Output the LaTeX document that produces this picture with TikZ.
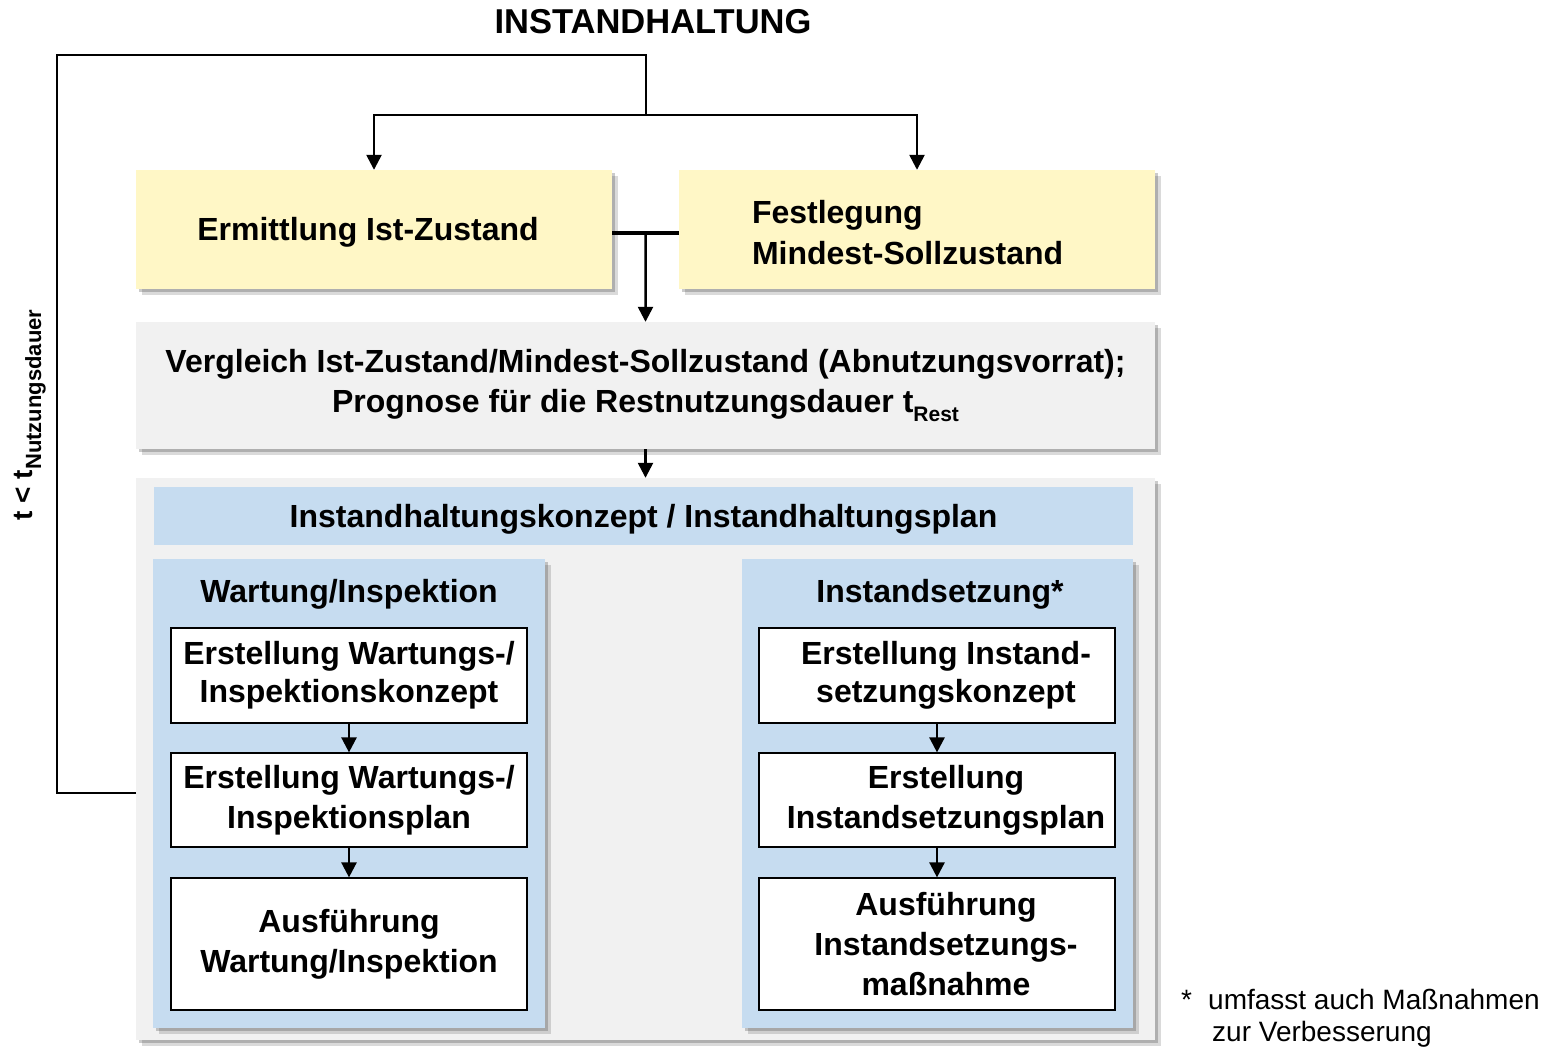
\documentclass[tikz,border=0pt]{standalone}
\usepackage{fontspec}
\setmainfont{Liberation Sans}
\usetikzlibrary{arrows.meta,shadows,calc}
\definecolor{yfill}{HTML}{FFF7C6}
\definecolor{gfill}{HTML}{F1F1F1}
\definecolor{bfill}{HTML}{C6DCF0}
\newcommand{\bigf}{\fontsize{32}{40}\selectfont\bfseries}
\newcommand{\subf}{\fontsize{21}{21}\selectfont\bfseries}
\newcommand{\sT}{\rule[-0.21em]{0pt}{1.14em}}
\newcommand{\sTT}{\rule[-0.21em]{0pt}{1.33em}}
\newcommand{\rS}{\hspace*{18pt}}
\tikzset{
  lne/.style={line width=2.5pt},
  conn/.style={line width=2.5pt,-{Triangle[width=15pt,length=15pt]}},
  shad/.style={drop shadow={shadow xshift=3pt,shadow yshift=-3pt,opacity=0.25,fill=black!80},
               drop shadow={shadow xshift=6pt,shadow yshift=-6pt,opacity=0.18,fill=black!80}},
  vc/.style={execute at begin node=\sT,execute at end node=\sT},
  ybox/.style={fill=yfill,draw=none,shad,minimum width=476pt,minimum height=119pt,inner sep=0pt,font=\bigf,align=center},
  gbox/.style={fill=gfill,draw=none,shad,inner sep=0pt,align=center,font=\bigf},
  bbox/.style={fill=bfill,draw=none,inner sep=0pt,align=center,font=\bigf},
  wbox/.style={fill=white,draw=black,line width=1.2pt,minimum width=356pt,inner sep=0pt,align=center,font=\bigf},
  lbl/.style={font=\bigf,inner sep=0pt,align=center}
}
\begin{document}
\begin{tikzpicture}[x=1pt,y=-1pt]
\useasboundingbox[fill=white] (0,0) rectangle (1554,1047);

\node[lbl,font=\fontsize{34.5}{34.5}\selectfont\bfseries] (title) at (653,22) {INSTANDHALTUNG};

% yellow boxes
\node[ybox,vc] (y1) at (374,229.5) {Ermittlung Ist-Zustand\hspace*{12pt}};
\node[ybox,execute at begin node=\sTT,execute at end node=\sT,text width=330pt,align=left,font=\fontsize{32}{41}\selectfont\bfseries] (y2) at (917,229.5) {Festlegung\\Mindest-Sollzustand};

% gray comparison box
\node[gbox,minimum width=1019pt,minimum height=127pt] (cmp) at (645.5,385.5)
  {Vergleich Ist-Zustand/Mindest-Sollzustand (Abnutzungsvorrat);\\Prognose für die Restnutzungsdauer t\raisebox{-0.3em}{\subf Rest}};

% outer container
\node[gbox,minimum width=1019pt,minimum height=562pt] (outer) at (645.5,759) {};
\node[bbox,vc,minimum width=979pt,minimum height=58pt] (head) at (643.5,516) {Instandhaltungskonzept / Instandhaltungsplan};

% panels
\node[bbox,shad,minimum width=392pt,minimum height=469pt] (lp) at (349,793.5) {};
\node[bbox,shad,minimum width=391pt,minimum height=469pt] (rp) at (937.5,793.5) {};
\node[lbl,vc] (lt) at (349,591) {Wartung/Inspektion};
\node[lbl,vc] (rt) at (940,591) {Instandsetzung*};

% white boxes left
\node[wbox,vc,minimum height=95pt,font=\fontsize{32}{38}\selectfont\bfseries] (l1) at (349,675.5) {Erstellung Wartungs-/\\Inspektionskonzept};
\node[wbox,minimum height=94pt] (l2) at (349,800) {Erstellung Wartungs-/\\Inspektionsplan};
\node[wbox,minimum height=132pt] (l3) at (349,944) {Ausführung\\Wartung/Inspektion};
% white boxes right
\node[wbox,vc,minimum height=95pt,font=\fontsize{32}{38}\selectfont\bfseries] (r1) at (937,675.5) {\rS Erstellung Instand-\\\rS setzungskonzept};
\node[wbox,minimum height=94pt] (r2) at (937,800) {\rS Erstellung\\\rS Instandsetzungsplan};
\node[wbox,minimum height=132pt] (r3) at (937,944) {\rS Ausführung\\\rS Instandsetzungs-\\\rS maßnahme};

\draw[conn] (l1) -- (l2);
\draw[conn] (l2) -- (l3);
\draw[conn] (r1) -- (r2);
\draw[conn] (r2) -- (r3);

% connectors
\coordinate (fbstart) at (136,793);
\coordinate (corner) at (57,55);
\coordinate (split) at (646,115);
\draw[lne] (fbstart) -| (corner) -| (split);
\draw[conn] (split) -| (y1.north);
\draw[conn] (split) -| (y2.north);
\draw[line width=4pt] ([yshift=-3pt]y1.east) -- ([yshift=-3pt]y2.west);
\coordinate (j) at ($([yshift=-3pt]y1.east)!0.5!([yshift=-3pt]y2.west)$);
\draw[conn] (j) -- (cmp.north);
\draw[conn] (cmp.south) -- (outer.north);

% rotated label
\node[lbl,rotate=90,font=\fontsize{28}{28}\selectfont\bfseries] (tl) at (30,415) {t < t\raisebox{-0.3em}{\fontsize{22}{22}\selectfont\bfseries Nutzungsdauer}};

% footnote
\node[anchor=north west,align=left,inner sep=0pt,font=\fontsize{28}{32}\selectfont] (fn) at (1181,988.5) {\makebox[27pt][l]{*}umfasst auch Maßnahmen\\\hspace*{31pt}zur Verbesserung};
\end{tikzpicture}
\end{document}
